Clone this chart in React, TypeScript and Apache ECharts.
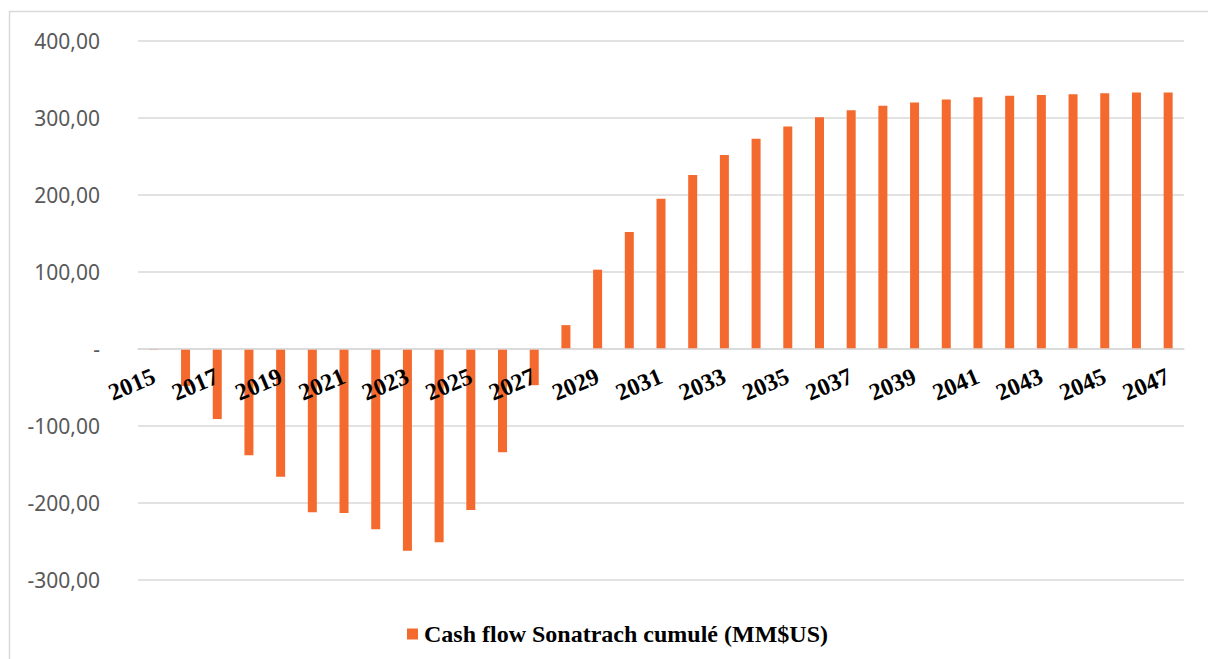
import React, { useEffect, useRef } from "react";
import * as echarts from "echarts";

// Years of the projection
const years: string[] = [
  "2015", "2016", "2017", "2018", "2019", "2020", "2021", "2022", "2023", "2024",
  "2025", "2026", "2027", "2028", "2029", "2030", "2031", "2032", "2033", "2034",
  "2035", "2036", "2037", "2038", "2039", "2040", "2041", "2042", "2043", "2044",
  "2045", "2046", "2047",
];

// Cumulative Sonatrach cash flow, MM$US
const cumulativeCashFlow: number[] = [
  -1, -48, -91, -138, -166, -212, -213, -234, -262, -251,
  -209, -134, -47, 31, 103, 152, 195, 226, 252, 273,
  289, 301, 310, 316, 320, 324, 327, 329, 330, 331,
  332, 333, 333,
];

const seriesName = "Cash flow Sonatrach cumulé (MM$US)";

const yMin = -300;
const yMax = 400;
const yStep = 100;

const formatValue = (v: number): string =>
  v === 0 ? "-" : v.toFixed(2).replace(".", ",");

// Plot box
const gridTop = 41;
const gridBottom = 79;
const chartHeight = 659;

export default function App() {
  const ref = useRef<HTMLDivElement>(null);

  useEffect(() => {
    document.body.style.margin = "0";
    if (!ref.current) return;
    const chart = echarts.init(ref.current, undefined, { renderer: "svg" });
    // Lift the category axis (line + labels) from the bottom edge up to the zero line
    const plotHeight = chartHeight - gridTop - gridBottom;
    const zeroLift = (plotHeight * (0 - yMin)) / (yMax - yMin);
    chart.setOption({
      animation: false,
      backgroundColor: "#ffffff",
      graphic: [
        {
          type: "rect",
          shape: { x: 9.5, y: 11.5, width: 1260, height: 700 },
          style: { fill: "none", stroke: "#d9d9d9", lineWidth: 1.5 },
          silent: true,
          z: -1,
        },
      ],
      grid: { left: 138, right: 24, top: gridTop, bottom: gridBottom, containLabel: false },
      legend: {
        data: [seriesName],
        left: 402,
        top: 617,
        icon: "rect",
        itemWidth: 11,
        itemHeight: 11,
        itemGap: 6,
        textStyle: {
          fontFamily: "Liberation Serif",
          fontWeight: "bold",
          fontSize: 24,
          color: "#000000",
          padding: [0, 0, 0, 1],
        },
      },
      xAxis: {
        type: "category",
        data: years,
        position: "bottom",
        offset: -zeroLift,
        axisLine: { onZero: false, lineStyle: { color: "#d9d9d9", width: 1.5 } },
        axisTick: { show: false },
        axisLabel: {
          interval: 1,
          rotate: 23,
          margin: 26,
          fontFamily: "Liberation Serif",
          fontWeight: "bold",
          fontSize: 24,
          color: "#000000",
        },
        z: 10,
      },
      yAxis: {
        type: "value",
        min: yMin,
        max: yMax,
        interval: yStep,
        axisLine: { show: false },
        axisTick: { show: false },
        splitLine: { lineStyle: { color: "#d9d9d9", width: 1.5 } },
        axisLabel: {
          formatter: formatValue,
          margin: 38,
          fontFamily: "Noto Sans",
          fontSize: 21,
          color: "#595959",
        },
      },
      series: [
        {
          name: seriesName,
          type: "bar",
          data: cumulativeCashFlow,
          barWidth: 9,
          itemStyle: { color: "#F4692D" },
        },
      ],
    });
    return () => chart.dispose();
  }, []);

  return <div ref={ref} style={{ width: 1208, height: 659 }} />;
}
